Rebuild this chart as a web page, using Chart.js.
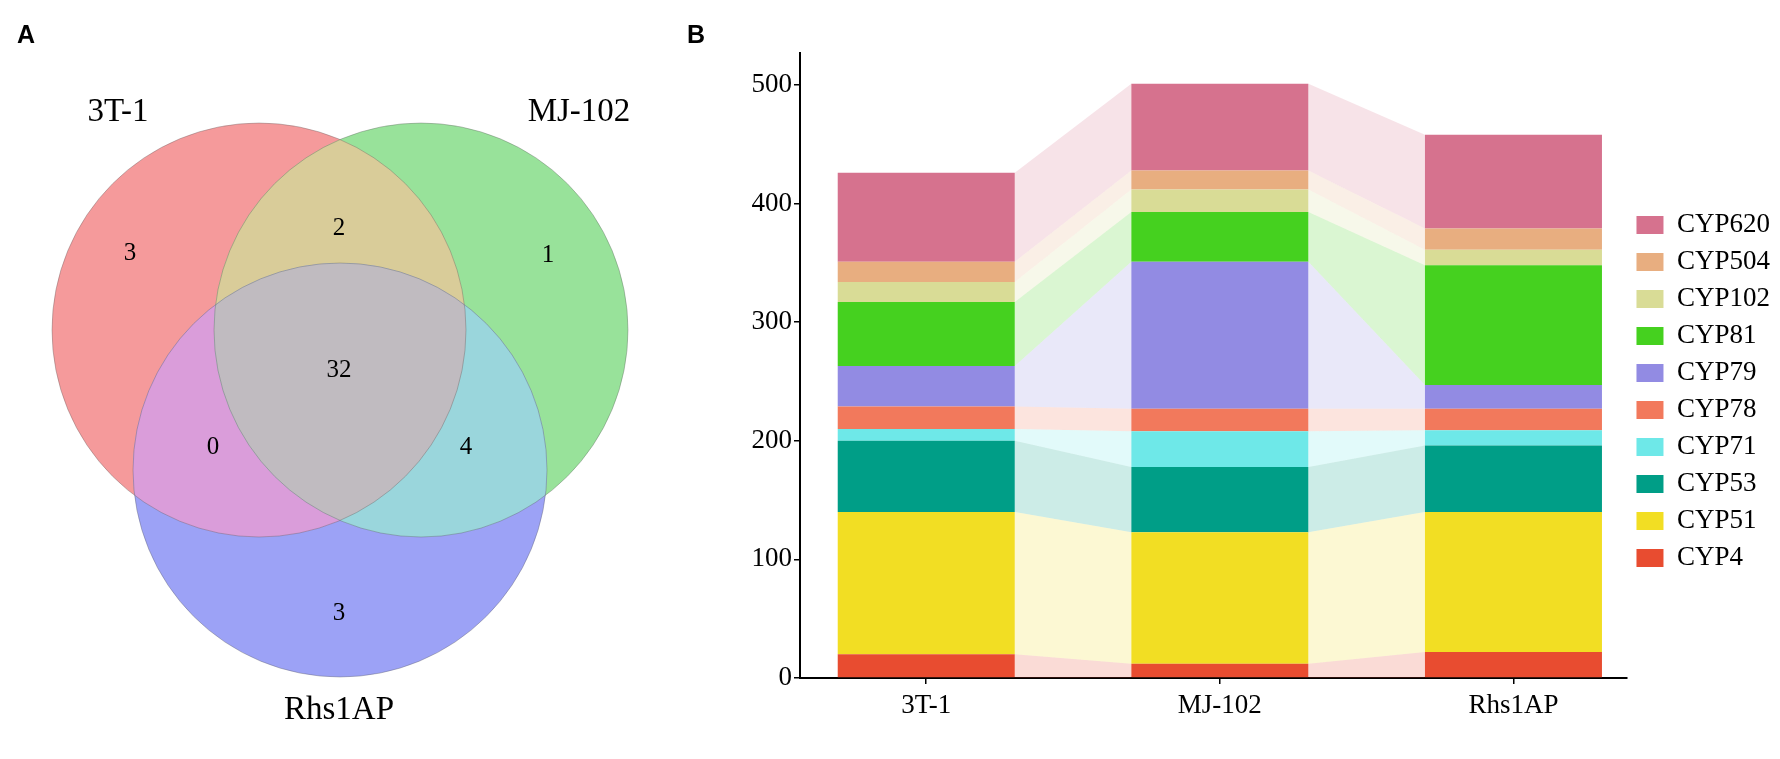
<!DOCTYPE html>
<html>
<head>
<meta charset="utf-8">
<script src="https://cdn.jsdelivr.net/npm/chart.js@4.4.1/dist/chart.umd.min.js"></script>
<style>
  html, body { margin: 0; padding: 0; background: #fff; }
  #fig { position: relative; width: 1780px; height: 759px; overflow: hidden; }
  canvas { position: absolute; top: 0; }
  #venn { left: 0; }
  #bars { left: 680px; }
  .tag { position: absolute; font: bold 25px "Liberation Sans", Arial, sans-serif; line-height: 25px; color: #000; }
</style>
</head>
<body>
<div id="fig">
  <canvas id="venn" width="700" height="759"></canvas>
  <canvas id="bars" width="1100" height="759"></canvas>
  <div class="tag" style="left:17px;top:22px">A</div>
  <div class="tag" style="left:687px;top:22px">B</div>
</div>
<script>
// ---- panel A: Venn of shared CYP families ----
const setNames = ['3T-1', 'MJ-102', 'Rhs1AP'];
// only 3T-1, only MJ-102, only Rhs1AP, 3T-1&MJ-102, 3T-1&Rhs1AP, MJ-102&Rhs1AP, all three
const regionCounts = [3, 1, 3, 2, 0, 4, 32];

// ---- panel B: CYP family counts per strain ----
const groups = ['3T-1', 'MJ-102', 'Rhs1AP'];
const families = ['CYP4', 'CYP51', 'CYP53', 'CYP71', 'CYP78', 'CYP79', 'CYP81', 'CYP102', 'CYP504', 'CYP620'];
const cyp4   = [20, 12, 22];
const cyp51  = [120, 111, 118];
const cyp53  = [60, 55, 56];
const cyp71  = [10, 30, 13];
const cyp78  = [19, 19, 18];
const cyp79  = [34, 124, 20];
const cyp81  = [54, 42, 101];
const cyp102 = [17, 19, 13];
const cyp504 = [17, 16, 18];
const cyp620 = [75, 73, 79];
const yTicksMax = 527;

const famColors = ['#E84C30', '#F2DE23', '#009E87', '#6EE8E8', '#F2795C',
                   '#928BE3', '#45D11F', '#D9DC96', '#E8AE80', '#D6728E'];

const serif = '"Liberation Serif", "Times New Roman", serif';

// layout of the Venn (diagram units, y upwards)
const vennR = 207;
const vennCircles = [{ x: 259, y: 429 }, { x: 421, y: 429 }, { x: 340, y: 289 }];
const setLabelPos = [{ x: 118, y: 647 }, { x: 579, y: 647 }, { x: 339, y: 49 }];
const countPos = [{ x: 130, y: 506 }, { x: 548, y: 504 }, { x: 339, y: 146 },
                  { x: 339, y: 531 }, { x: 213, y: 312 }, { x: 466, y: 312 }, { x: 339, y: 389 }];
const regionColors = ['#F59A9B', '#98E29A', '#9CA2F6', '#D9CC99', '#DA9DDA', '#9AD6DC', '#C0BBC0'];

const circle = i => [{ x: vennCircles[i].x, y: vennCircles[i].y, r: vennR }];

// full circles, then lenses clipped to the other circles, then outlines on top
const layers = [
  { c: 0, clipTo: [], color: regionColors[0] },
  { c: 1, clipTo: [], color: regionColors[1] },
  { c: 2, clipTo: [], color: regionColors[2] },
  { c: 1, clipTo: [0], color: regionColors[3] },
  { c: 2, clipTo: [0], color: regionColors[4] },
  { c: 2, clipTo: [1], color: regionColors[5] },
  { c: 2, clipTo: [0, 1], color: regionColors[6] }
];
const vennSets = layers.map(l => ({
  data: circle(l.c),
  backgroundColor: l.color,
  borderWidth: 0,
  clipTo: l.clipTo
}));
[0, 1, 2].forEach(i => vennSets.push({
  data: circle(i),
  backgroundColor: 'transparent',
  borderColor: 'rgba(90,90,90,0.35)',
  borderWidth: 1,
  clipTo: []
}));
vennSets.forEach((ds, k) => { ds.order = -k; ds.clip = false; ds.hoverRadius = 0; });

const lensClip = {
  id: 'lensClip',
  beforeDatasetDraw(chart, args) {
    const ds = chart.data.datasets[args.index];
    if (!ds.clipTo || !ds.clipTo.length) return;
    const ctx = chart.ctx;
    ctx.save();
    ds.clipTo.forEach(i => {
      const el = chart.getDatasetMeta(i).data[0];
      ctx.beginPath();
      ctx.arc(el.x, el.y, el.options.radius, 0, Math.PI * 2);
      ctx.clip();
    });
  },
  afterDatasetDraw(chart, args) {
    const ds = chart.data.datasets[args.index];
    if (ds.clipTo && ds.clipTo.length) chart.ctx.restore();
  }
};

const vennText = {
  id: 'vennText',
  afterDatasetsDraw(chart) {
    const { ctx, scales: { x, y } } = chart;
    ctx.save();
    ctx.fillStyle = '#000';
    ctx.textAlign = 'center';
    ctx.textBaseline = 'middle';
    ctx.font = '33px ' + serif;
    setNames.forEach((n, i) => ctx.fillText(n, x.getPixelForValue(setLabelPos[i].x), y.getPixelForValue(setLabelPos[i].y)));
    ctx.font = '25px ' + serif;
    regionCounts.forEach((c, i) => ctx.fillText(String(c), x.getPixelForValue(countPos[i].x), y.getPixelForValue(countPos[i].y)));
    ctx.restore();
  }
};

new Chart(document.getElementById('venn'), {
  type: 'bubble',
  data: { datasets: vennSets },
  options: {
    responsive: false,
    animation: false,
    events: [],
    layout: { padding: 0, autoPadding: false },
    scales: {
      x: { type: 'linear', min: 0, max: 700, display: false },
      y: { type: 'linear', min: 0, max: 759, display: false }
    },
    plugins: { legend: { display: false }, tooltip: { enabled: false } }
  },
  plugins: [lensClip, vennText]
});

// ---- panel B ----
const series = [cyp4, cyp51, cyp53, cyp71, cyp78, cyp79, cyp81, cyp102, cyp504, cyp620];
const barPct = 0.603;
const half = barPct / 2;

const fade = (hex, a = 0.2) => {
  const n = parseInt(hex.slice(1), 16);
  return `rgba(${(n >> 16) & 255},${(n >> 8) & 255},${n & 255},${a})`;
};

// running top of each family in each group
const tops = series.map((_, f) => groups.map((_, g) => series.slice(0, f + 1).reduce((s, a) => s + a[g], 0)));

const barSets = families.map((name, f) => ({
  type: 'bar',
  label: name,
  data: series[f].map((v, g) => ({ x: g + 1, y: v })),
  backgroundColor: famColors[f],
  borderWidth: 0,
  barPercentage: barPct,
  categoryPercentage: 1,
  yAxisID: 'y',
  order: 0
}));

const bandSets = [];
for (let g = 0; g < groups.length - 1; g++) {
  families.forEach((name, f) => {
    bandSets.push({
      type: 'line',
      label: name + ' flow',
      data: [{ x: g + 1 + half, y: tops[f][g] }, { x: g + 2 - half, y: tops[f][g + 1] }],
      yAxisID: 'yb',
      borderColor: 'transparent',
      borderWidth: 0,
      pointRadius: 0,
      tension: 0,
      backgroundColor: fade(famColors[f]),
      fill: f === 0 ? 'origin' : '-1',
      order: 1
    });
  });
}

const axisFont = { family: serif, size: 27 };

new Chart(document.getElementById('bars'), {
  type: 'bar',
  data: { datasets: [...barSets, ...bandSets] },
  options: {
    responsive: false,
    animation: false,
    events: [],
    layout: { padding: { top: 53, bottom: 29, left: 0, right: 0 } },
    scales: {
      x: {
        type: 'linear', min: 0.57, max: 3.385, stacked: true, offset: false,
        grid: { offset: false, drawOnChartArea: false, drawTicks: true, tickLength: 6, color: '#000', lineWidth: 1.5 },
        border: { display: true, color: '#000', width: 2 },
        ticks: {
          stepSize: 1, includeBounds: false, autoSkip: false, maxRotation: 0,
          padding: 6, color: '#000', font: axisFont,
          callback: v => groups[v - 1] ?? ''
        },
        afterFit: s => { s.height = 52; }
      },
      y: {
        stacked: true, min: 0, max: yTicksMax,
        grid: { drawOnChartArea: false, drawTicks: true, tickLength: 6, color: '#000', lineWidth: 1.5 },
        border: { display: true, color: '#000', width: 2 },
        ticks: { stepSize: 100, includeBounds: false, padding: 2, color: '#000', font: axisFont },
        afterFit: s => { s.width = 120; }
      },
      yb: { display: false, min: 0, max: yTicksMax }
    },
    plugins: {
      tooltip: { enabled: false },
      legend: {
        position: 'right',
        align: 'center',
        reverse: true,
        labels: {
          boxWidth: 27, boxHeight: 18, padding: 10,
          color: '#000', font: axisFont,
          filter: (item, data) => data.datasets[item.datasetIndex].type === 'bar'
        }
      }
    }
  }
});
</script>
</body>
</html>
